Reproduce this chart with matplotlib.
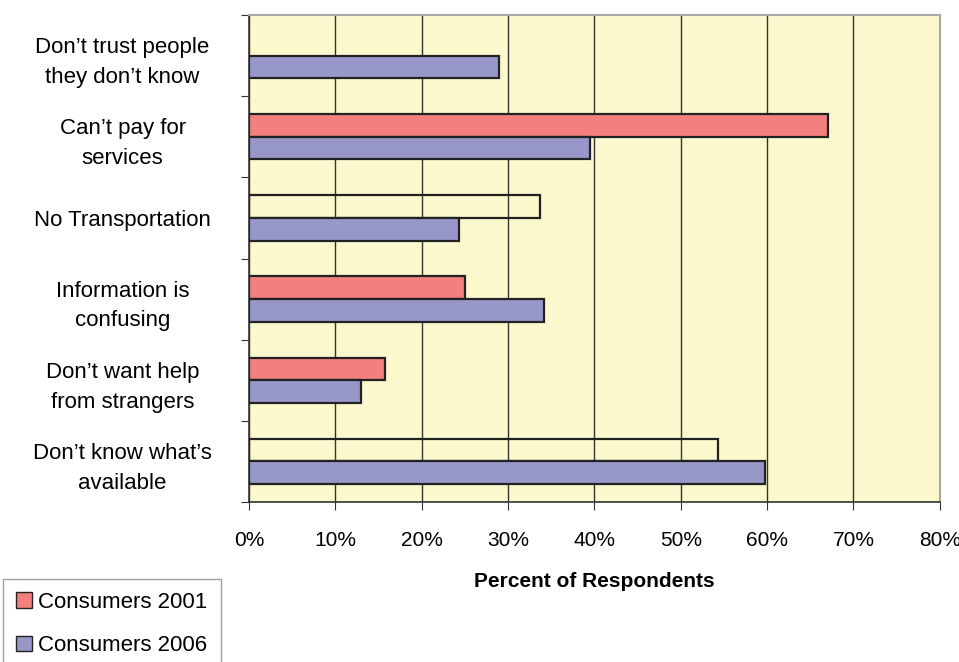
import matplotlib.pyplot as plt
import numpy as np

plt.rcParams['font.family'] = ['Liberation Sans', 'DejaVu Sans']

categories = ["Don\u2019t trust people\nthey don\u2019t know",
              "Can\u2019t pay for\nservices",
              "No Transportation",
              "Information is\nconfusing",
              "Don\u2019t want help\nfrom strangers",
              "Don\u2019t know what\u2019s\navailable"]
consumers_2001 = [np.nan, 67.0, 33.7, 25.0, 15.7, 54.3]
consumers_2006 = [28.9, 39.5, 24.3, 34.2, 13.0, 59.8]
xticks = [0, 10, 20, 30, 40, 50, 60, 70, 80]

red = "#F47F7F"
purple = "#9797C9"
bg = "#FCF8CE"
# two of the 2001 bars are drawn hollow in the original
fill_2001 = [red, red, "none", red, red, "none"]

fig = plt.figure(figsize=(9.59, 6.62), dpi=100)
ax = fig.add_axes([0.2596, 0.2417, 0.7204, 0.7356])
ax.set_facecolor(bg)

y = np.arange(len(categories))
h = 0.28
ax.barh(y - h / 2, consumers_2001, height=h, color=fill_2001,
        edgecolor="#222222", linewidth=1.6, zorder=3)
ax.barh(y + h / 2, consumers_2006, height=h, color=purple,
        edgecolor="#222222", linewidth=1.6, zorder=3)

ax.set_xlim(0, 80)
ax.set_ylim(len(categories) - 0.5, -0.5)
ax.set_xticks(xticks)
ax.set_xticklabels([f"{v}%" for v in xticks], fontsize=15)
ax.set_yticks(np.arange(-0.5, len(categories), 1.0))
ax.set_yticklabels([])
ax.set_yticks(y, minor=True)
ax.set_yticklabels(categories, minor=True, fontsize=16, ha="center",
                   linespacing=1.55)
ax.tick_params(axis="y", which="minor", length=0, pad=91)
ax.tick_params(axis="y", which="major", length=6, color="#333333")
ax.tick_params(axis="x", length=6, color="#333333", pad=15)

ax.grid(axis="x", color="#333333", linewidth=1, zorder=1)
for s in ["top", "right"]:
    ax.spines[s].set_color("#A8A8A8")
    ax.spines[s].set_linewidth(1.5)
for s in ["left", "bottom"]:
    ax.spines[s].set_color("#333333")
    ax.spines[s].set_linewidth(1.2)

ax.set_xlabel("Percent of Respondents", fontsize=15, fontweight="bold",
              labelpad=16)

handles = [plt.Rectangle((0, 0), 1, 1, facecolor=red, edgecolor="#222222"),
           plt.Rectangle((0, 0), 1, 1, facecolor=purple, edgecolor="#222222")]
fig.legend(handles, ["Consumers 2001", "Consumers 2006"], loc="upper left",
           bbox_to_anchor=(0.003, 0.126), borderaxespad=0, fontsize=16,
           frameon=True, fancybox=False, edgecolor="#888888",
           handlelength=0.7, handleheight=0.7, handletextpad=0.3,
           labelspacing=1.0, borderpad=0.6)

fig.savefig("out.png", dpi=100)
